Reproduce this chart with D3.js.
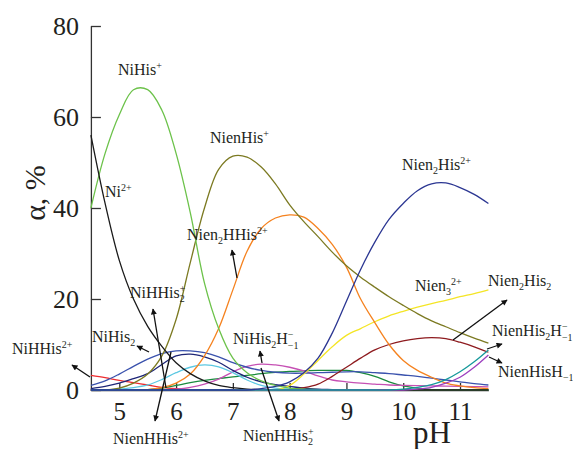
<!DOCTYPE html>
<html>
<head>
<meta charset="utf-8">
<script src="https://cdnjs.cloudflare.com/ajax/libs/d3/7.8.5/d3.min.js"></script>
<style>
  body { margin: 0; background: #fff; }
  .axis path, .axis line { stroke: #333; stroke-width: 1.3; }
</style>
</head>
<body>
<div id="chart"></div>
<script>
// pH grid
var pH = [4.5, 4.75, 5, 5.25, 5.5, 5.75, 6, 6.25, 6.5, 6.75, 7, 7.25, 7.5, 7.75, 8,
          8.25, 8.5, 8.75, 9, 9.25, 9.5, 9.75, 10, 10.25, 10.5, 10.75, 11, 11.25, 11.5];

// species fractions, %
var ni = [56, 41, 28.5, 20, 14, 9.6, 6, 3.6, 2, 1, 0.5, 0.2, 0.1, 0, 0, 0, 0, 0, 0, 0, 0, 0, 0, 0, 0, 0, 0, 0, 0];
var niHis = [40, 52, 60.5, 66, 66, 61.5, 52, 39, 23.5, 13.5, 7, 3.8, 2, 1, 0.4, 0.2, 0.1, 0, 0, 0, 0, 0, 0, 0, 0, 0, 0, 0, 0];
var nienHis = [0, 0, 0.4, 1.5, 3.5, 7.5, 15.5, 28, 40, 48.5, 51.4, 51.2, 49, 45.3, 40.7, 37, 33.7, 30.3, 27.3, 24.8, 22.6, 20.5, 18.6, 16.8, 15.2, 13.9, 12.6, 11.4, 10.3];
var nien2HHis = [0, 0, 0, 0, 0.1, 0.5, 1.5, 3.5, 7.5, 13.5, 22, 30.5, 35.5, 37.8, 38.5, 38, 35.5, 32, 27, 20, 14.8, 10, 6.5, 4.3, 2.8, 1.5, 0.9, 0.5, 0.3];
var nien2His = [0, 0, 0, 0, 0, 0, 0, 0, 0, 0, 0, 0, 0.3, 0.8, 1.8, 3.8, 7, 12.5, 19.5, 26.5, 32.5, 37.5, 41, 43.8, 45.3, 45.5, 44.5, 43, 41];
var nien3 = [0, 0, 0, 0, 0, 0, 0, 0, 0, 0, 0, 0, 0, 0, 1, 3.5, 6.5, 9.5, 12, 13.5, 15, 16.3, 17.3, 18.2, 19, 19.7, 20.5, 21.2, 22];
var nien2His2 = [0, 0, 0, 0, 0, 0, 0, 0, 0, 0, 0, 0, 0, 0, 0.1, 0.5, 1.3, 3, 5, 7, 8.8, 10, 10.8, 11.3, 11.5, 11.3, 10.5, 9.5, 8.3];
var niHis2 = [1, 2, 3.5, 5.2, 6.8, 8, 8.6, 8.6, 8.2, 7.3, 6, 5, 4.3, 3.9, 3.7, 3.7, 3.8, 3.9, 4, 4, 3.8, 3.6, 3.3, 3, 2.6, 2.2, 1.8, 1.4, 1.1];
var niHHis2 = [0.3, 0.8, 1.5, 2.5, 3.6, 5.6, 7.5, 7.9, 7.3, 6.1, 4.3, 2.8, 1.8, 1.2, 0.8, 0.4, 0.2, 0.1, 0, 0, 0, 0, 0, 0, 0, 0, 0, 0, 0];
var niHHis = [3.2, 2.7, 2.1, 1.6, 1.1, 0.6, 0.3, 0.1, 0, 0, 0, 0, 0, 0, 0, 0, 0, 0, 0, 0, 0, 0, 0, 0, 0, 0, 0, 0, 0];
var nienHHis = [0, 0, 0.2, 0.5, 1.1, 2.3, 3.8, 5, 5.5, 5.1, 3.8, 2.2, 1, 0.4, 0.2, 0.1, 0, 0, 0, 0, 0, 0, 0, 0, 0, 0, 0, 0, 0];
var nienHHis2 = [0, 0, 0, 0, 0.1, 0.4, 1, 1.6, 2.1, 2.5, 2.9, 3.2, 3.6, 3.9, 4.1, 4.2, 4.3, 4.3, 4.3, 3.8, 3, 1.8, 0.9, 0.4, 0.1, 0, 0, 0, 0];
var niHis2H = [0, 0, 0, 0, 0, 0, 0.2, 0.6, 1.3, 2.4, 4, 5.2, 5.7, 5.5, 5, 4.2, 3.1, 2.2, 1.8, 1.5, 1.3, 1.1, 1, 0.95, 0.9, 0.85, 0.8, 0.75, 0.7];
var nienHis2H = [0, 0, 0, 0, 0, 0, 0, 0, 0, 0, 0, 0, 0, 0, 0, 0, 0, 0, 0, 0, 0, 0, 0.2, 0.6, 1.2, 2.3, 4, 6.2, 8.8];
var nienHisH = [0, 0, 0, 0, 0, 0, 0, 0, 0, 0, 0, 0, 0, 0, 0, 0, 0, 0, 0, 0, 0, 0, 0, 0.2, 0.6, 1.5, 2.8, 5, 7.7];

var xTicks = [5, 6, 7, 8, 9, 10, 11];
var yTicks = [0, 20, 40, 60, 80];

var series = [
  { values: niHHis, color: "#ee2b2e" },
  { values: nienHHis2, color: "#1b8a3e" },
  { values: niHis2H, color: "#c650b4" },
  { values: nienHHis, color: "#5cc8e2" },
  { values: niHis2, color: "#3a52ad" },
  { values: niHHis2, color: "#1e2677" },
  { values: nien2His2, color: "#8e1b1f" },
  { values: nien3, color: "#f4e526" },
  { values: nien2HHis, color: "#f5821f" },
  { values: nienHis, color: "#7c7a22" },
  { values: niHis, color: "#6cc24a" },
  { values: ni, color: "#1a1a1a" },
  { values: nienHisH, color: "#9c3fbf" },
  { values: nienHis2H, color: "#16999b" },
  { values: nien2His, color: "#2b3692" }
];

var serif = "'Liberation Serif', 'Times New Roman', serif";
var width = 573, height = 449;

var svg = d3.select("#chart").append("svg")
    .attr("width", width)
    .attr("height", height)
    .style("display", "block");

var x = d3.scaleLinear().domain([4.5, 11.5]).range([90.9, 488.4]);
var y = d3.scaleLinear().domain([0, 80]).range([390, 26]);

var line = d3.line()
    .curve(d3.curveCatmullRom.alpha(0.5))
    .x(function(d, i) { return x(pH[i]); })
    .y(function(d) { return y(d); });

// axes (ticks point inward)
var yAxis = d3.axisLeft(y).tickValues(yTicks).tickFormat(d3.format("d"))
    .tickSizeInner(-10).tickSizeOuter(0).tickPadding(12);
var xAxis = d3.axisBottom(x).tickValues(xTicks).tickFormat(d3.format("d"))
    .tickSizeInner(-7).tickSizeOuter(0).tickPadding(12);

svg.append("g")
    .attr("class", "axis")
    .attr("transform", "translate(" + x(4.5) + ",0)")
    .call(yAxis)
    .selectAll("text")
    .attr("fill", "#231f20")
    .style("font-family", serif)
    .style("font-size", "26px");

svg.append("g")
    .attr("class", "axis")
    .attr("transform", "translate(0," + y(0) + ")")
    .call(xAxis)
    .selectAll("text")
    .attr("fill", "#231f20")
    .style("font-family", serif)
    .style("font-size", "25px");

// curves
svg.append("g").selectAll("path")
    .data(series)
  .enter().append("path")
    .attr("fill", "none")
    .attr("stroke", function(d) { return d.color; })
    .attr("stroke-width", 1.3)
    .attr("d", function(d) { return line(d.values); });

// axis titles
svg.append("text")
    .attr("transform", "translate(45,193) rotate(-90)")
    .attr("text-anchor", "middle")
    .style("font-family", serif)
    .style("font-size", "30px")
    .attr("fill", "#231f20")
    .text("α, %");

svg.append("text")
    .attr("x", 413).attr("y", 443)
    .style("font-family", serif)
    .style("font-size", "31px")
    .attr("fill", "#231f20")
    .text("pH");

// species labels: parts are [text, kind] with kind "", "sup", "sub", "stack"
var labels = [
  { x: 118, y: 75, parts: [["NiHis", ""], ["+", "sup"]] },
  { x: 105, y: 197, parts: [["Ni", ""], ["2+", "sup"]] },
  { x: 210, y: 143, parts: [["NienHis", ""], ["+", "sup"]] },
  { x: 187, y: 240, parts: [["Nien", ""], ["2", "sub"], ["HHis", ""], ["2+", "sup"]] },
  { x: 402, y: 170, parts: [["Nien", ""], ["2", "sub"], ["His", ""], ["2+", "sup"]] },
  { x: 415, y: 291, parts: [["Nien", ""], ["3", "sub"], ["2+", "sup"]] },
  { x: 488, y: 286, parts: [["Nien", ""], ["2", "sub"], ["His", ""], ["2", "sub"]] },
  { x: 492, y: 336, parts: [["NienHis", ""], ["2", "sub"], ["H", ""], ["−", "stack"]] },
  { x: 498, y: 377, parts: [["NienHisH", ""], ["−1", "sub"]] },
  { x: 12, y: 354, parts: [["NiHHis", ""], ["2+", "sup"]] },
  { x: 92, y: 342, parts: [["NiHis", ""], ["2", "sub"]] },
  { x: 130, y: 298, parts: [["NiHHis", ""], ["+", "stack2"]] },
  { x: 113, y: 444, parts: [["NienHHis", ""], ["2+", "sup"]] },
  { x: 233, y: 344, parts: [["NiHis", ""], ["2", "sub"], ["H", ""], ["−", "stack"]] },
  { x: 243, y: 441, parts: [["NienHHis", ""], ["+", "stack2"]] }
];

labels.forEach(function(l) {
  var t = svg.append("text")
      .attr("x", l.x).attr("y", l.y)
      .attr("fill", "#231f20")
      .style("font-family", serif)
      .style("font-size", "16px");
  var back = 0; // vertical offset still to undo on the next plain part
  l.parts.forEach(function(p) {
    if (p[1] === "") {
      t.append("tspan").attr("dy", back).text(p[0]);
      back = 0;
    } else if (p[1] === "sup") {
      t.append("tspan").attr("dy", back - 6).style("font-size", "10px").text(p[0]);
      back = 6;
    } else if (p[1] === "sub") {
      t.append("tspan").attr("dy", back + 4).style("font-size", "10px").text(p[0]);
      back = -4;
    } else if (p[1] === "stack") {
      // superscript minus over subscript -1
      t.append("tspan").attr("dy", back - 6).style("font-size", "10px").text("−");
      t.append("tspan").attr("dx", -5.6).attr("dy", 11).style("font-size", "10px").text("−1");
      back = -5;
    } else if (p[1] === "stack2") {
      // superscript + over subscript 2
      t.append("tspan").attr("dy", back - 6).style("font-size", "10px").text("+");
      t.append("tspan").attr("dx", -5.6).attr("dy", 10).style("font-size", "10px").text("2");
      back = -4;
    }
  });
});

// arrows from curves to labels
var arrows = [
  [90, 377, 72, 365],
  [149, 352, 137, 346],
  [166, 388, 153, 309],
  [171, 352, 155, 421],
  [237, 278, 232, 250],
  [262, 363, 260, 351],
  [261, 368, 279, 421],
  [453, 340, 507, 300],
  [487, 349, 502, 344],
  [489, 357, 502, 363]
];

svg.append("defs").append("marker")
    .attr("id", "head")
    .attr("viewBox", "0 0 10 10")
    .attr("refX", 9).attr("refY", 5)
    .attr("markerWidth", 9).attr("markerHeight", 6)
    .attr("markerUnits", "userSpaceOnUse")
    .attr("orient", "auto")
  .append("path")
    .attr("d", "M0,0L10,5L0,10Z")
    .attr("fill", "#111");

svg.append("g").selectAll("line")
    .data(arrows)
  .enter().append("line")
    .attr("x1", function(d) { return d[0]; })
    .attr("y1", function(d) { return d[1]; })
    .attr("x2", function(d) { return d[2]; })
    .attr("y2", function(d) { return d[3]; })
    .attr("stroke", "#111")
    .attr("stroke-width", 1.3)
    .attr("marker-end", "url(#head)");
</script>
</body>
</html>
